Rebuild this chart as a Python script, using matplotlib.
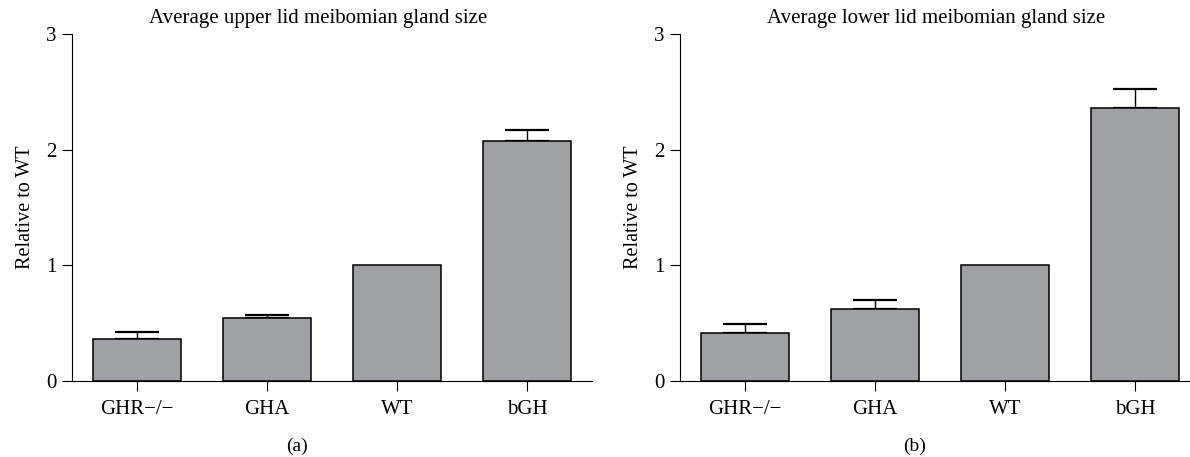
import matplotlib
matplotlib.use("Agg")
import matplotlib.pyplot as plt
import numpy as np

plt.rcParams["font.family"] = ["Liberation Serif", "DejaVu Serif"]

groups = ["GHR\u2212/\u2212", "GHA", "WT", "bGH"]
upper_mean = [0.36, 0.54, 1.00, 2.08]
upper_err = [0.06, 0.03, 0.00, 0.09]
lower_mean = [0.41, 0.62, 1.00, 2.36]
lower_err = [0.08, 0.08, 0.00, 0.17]

titles = ["Average upper lid meibomian gland size", "Average lower lid meibomian gland size"]
panel_tags = ["(a)", "(b)"]

bar_color = "#a0a1a5"

fig = plt.figure(figsize=(11.9, 4.57), dpi=100)
axes = [fig.add_axes([72 / 1190, 76.3 / 457, 520 / 1190, 346.4 / 457]),
        fig.add_axes([680 / 1190, 76.3 / 457, 520 / 1190, 346.4 / 457])]

for ax, means, errs, title, tag, cx in zip(axes, [upper_mean, lower_mean], [upper_err, lower_err],
                                          titles, panel_tags, [318, 936]):
    x = np.arange(len(groups))
    ax.bar(x, means, width=0.67, color=bar_color, edgecolor="black", linewidth=1.1, zorder=2)
    has_err = [i for i, e in enumerate(errs) if e > 0]
    ax.errorbar(x[has_err], np.array(means)[has_err],
                yerr=[np.zeros(len(has_err)), np.array(errs)[has_err]],
                fmt="none", ecolor="black", elinewidth=1.0, capsize=15.5, capthick=1.6, zorder=1)
    ax.set_xlim(-0.5, 3.5)
    ax.set_ylim(0, 3)
    ax.set_yticks([0, 1, 2, 3])
    ax.set_xticks(x)
    ax.set_xticklabels(groups, fontsize=15.5)
    for side in ["top", "right"]:
        ax.spines[side].set_visible(False)
    for side in ["left", "bottom"]:
        ax.spines[side].set_linewidth(0.8)
    ax.spines["bottom"].set_zorder(3)
    ax.tick_params(axis="both", direction="out", length=7, width=0.8, labelsize=15, pad=4)
    ax.tick_params(axis="x", pad=7)
    ax.set_ylabel("Relative to WT", fontsize=14.5, labelpad=8)
    fig.text(cx / 1190, 1 - 18 / 457, title, ha="center", va="center", fontsize=15)
    fig.text((cx - 21) / 1190, 1 - 446 / 457, tag, ha="center", va="center", fontsize=14)

fig.savefig("out.png", dpi=100)
